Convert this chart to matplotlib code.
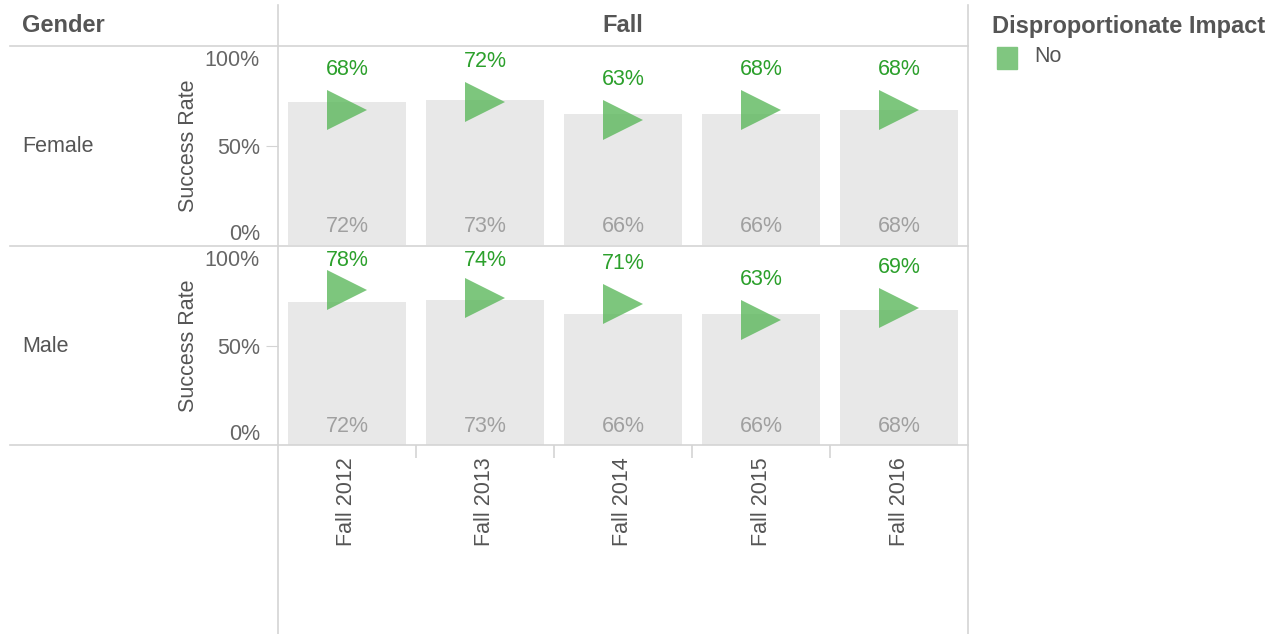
import matplotlib
matplotlib.use("Agg")
from matplotlib import pyplot as plt
from matplotlib.lines import Line2D
from matplotlib.transforms import ScaledTranslation

plt.rcParams['font.family'] = ['Liberation Sans', 'DejaVu Sans']

terms = ["Fall 2012", "Fall 2013", "Fall 2014", "Fall 2015", "Fall 2016"]
genders = ["Female", "Male"]
# overall success rate (grey bars), same for both rows
overall = [0.72, 0.73, 0.66, 0.66, 0.68]
# group success rate (triangles)
group_rate = {
    "Female": [0.68, 0.72, 0.63, 0.68, 0.68],
    "Male": [0.78, 0.74, 0.71, 0.63, 0.69],
}

W, H = 1272, 634
fig = plt.figure(figsize=(W / 100, H / 100), dpi=100)

def fx(px):
    return px / W

def fy(py):
    return 1 - py / H

dark = "#555555"
tick_col = "#666666"
line_col = "#d4d4d4"
green_txt = "#2ca02c"
tri_col = "#5cb85c"
fs = 15.5
fs_bold = 17

left, right = 278, 968
panes = {"Female": (46, 245), "Male": (246, 445)}

for g in genders:
    top, bot = panes[g]
    ax = fig.add_axes([fx(left), fy(bot), fx(right - left), (bot - top) / H])
    x = list(range(len(terms)))
    ax.bar(x, overall, width=0.855, color="#e8e8e8", zorder=1)
    ax.plot(x, group_rate[g], linestyle="none", marker=">", markersize=29.5,
            color=tri_col, alpha=0.8, markeredgewidth=0, zorder=3)
    pane_h = bot - top
    for i, v in enumerate(group_rate[g]):
        ly = min(v + 40 / pane_h, 1 - 14 / pane_h)
        ax.text(i, ly, f"{v:.0%}", color=green_txt, fontsize=fs, ha="center", va="center", zorder=4)
        ax.text(i, 0.04, f"{overall[i]:.0%}", color="#a0a0a0", fontsize=fs, ha="center", va="bottom", zorder=2)
    ax.set_xlim(-0.5, len(terms) - 0.5)
    ax.set_ylim(0, 1)
    for s in ax.spines.values():
        s.set_visible(False)
    ax.set_yticks([0, 0.5, 1])
    ax.set_yticklabels(["0%", "50%", "100%"])
    ax.tick_params(axis="y", length=9, color=line_col, labelcolor=tick_col, labelsize=fs, pad=4)
    labs = ax.get_yticklabels()
    labs[0].set_va("bottom")
    labs[2].set_va("top")
    labs[2].set_transform(labs[2].get_transform() + ScaledTranslation(0, -3 / 72, fig.dpi_scale_trans))
    yt = ax.yaxis.get_major_ticks()
    yt[0].tick1line.set_visible(False)
    yt[2].tick1line.set_visible(False)
    if g == "Male":
        ax.set_xticks(x)
        ax.set_xticklabels(terms, rotation=90, va="top", ha="center")
        ax.set_xticks([0.5, 1.5, 2.5, 3.5], minor=True)
        ax.tick_params(axis="x", which="major", length=0, pad=9, labelcolor=dark, labelsize=fs)
        ax.tick_params(axis="x", which="minor", length=9, color=line_col, width=1.2)
    else:
        ax.set_xticks([])
    fig.text(fx(22), fy((top + bot) / 2 + 1), g, color=dark, fontsize=fs, ha="left", va="center")
    fig.text(fx(188), fy((top + bot) / 2), "Success Rate", color=dark, fontsize=fs,
             rotation=90, ha="center", va="center")

# grid lines of the table
for y in [46, 245.5, 445]:
    fig.add_artist(Line2D([fx(10), fx(968)], [fy(y), fy(y)], color=line_col, lw=1.2))
for xx in [278, 968]:
    fig.add_artist(Line2D([fx(xx), fx(xx)], [fy(5), fy(634)], color=line_col, lw=1.2))

fig.text(fx(22), fy(26), "Gender", color=dark, fontsize=fs_bold, fontweight="bold", ha="left", va="center")
fig.text(fx(623), fy(26), "Fall", color=dark, fontsize=fs_bold, fontweight="bold", ha="center", va="center")

# legend
fig.text(fx(992), fy(26), "Disproportionate Impact", color=dark, fontsize=fs_bold, fontweight="bold",
         ha="left", va="center")
fig.patches.append(plt.Rectangle((fx(997), fy(69)), fx(20), 22 / H, transform=fig.transFigure,
                                 color="#80c680", figure=fig))
fig.text(fx(1034), fy(57), "No", color=dark, fontsize=fs, ha="left", va="center")

fig.savefig("out.png", dpi=100)
